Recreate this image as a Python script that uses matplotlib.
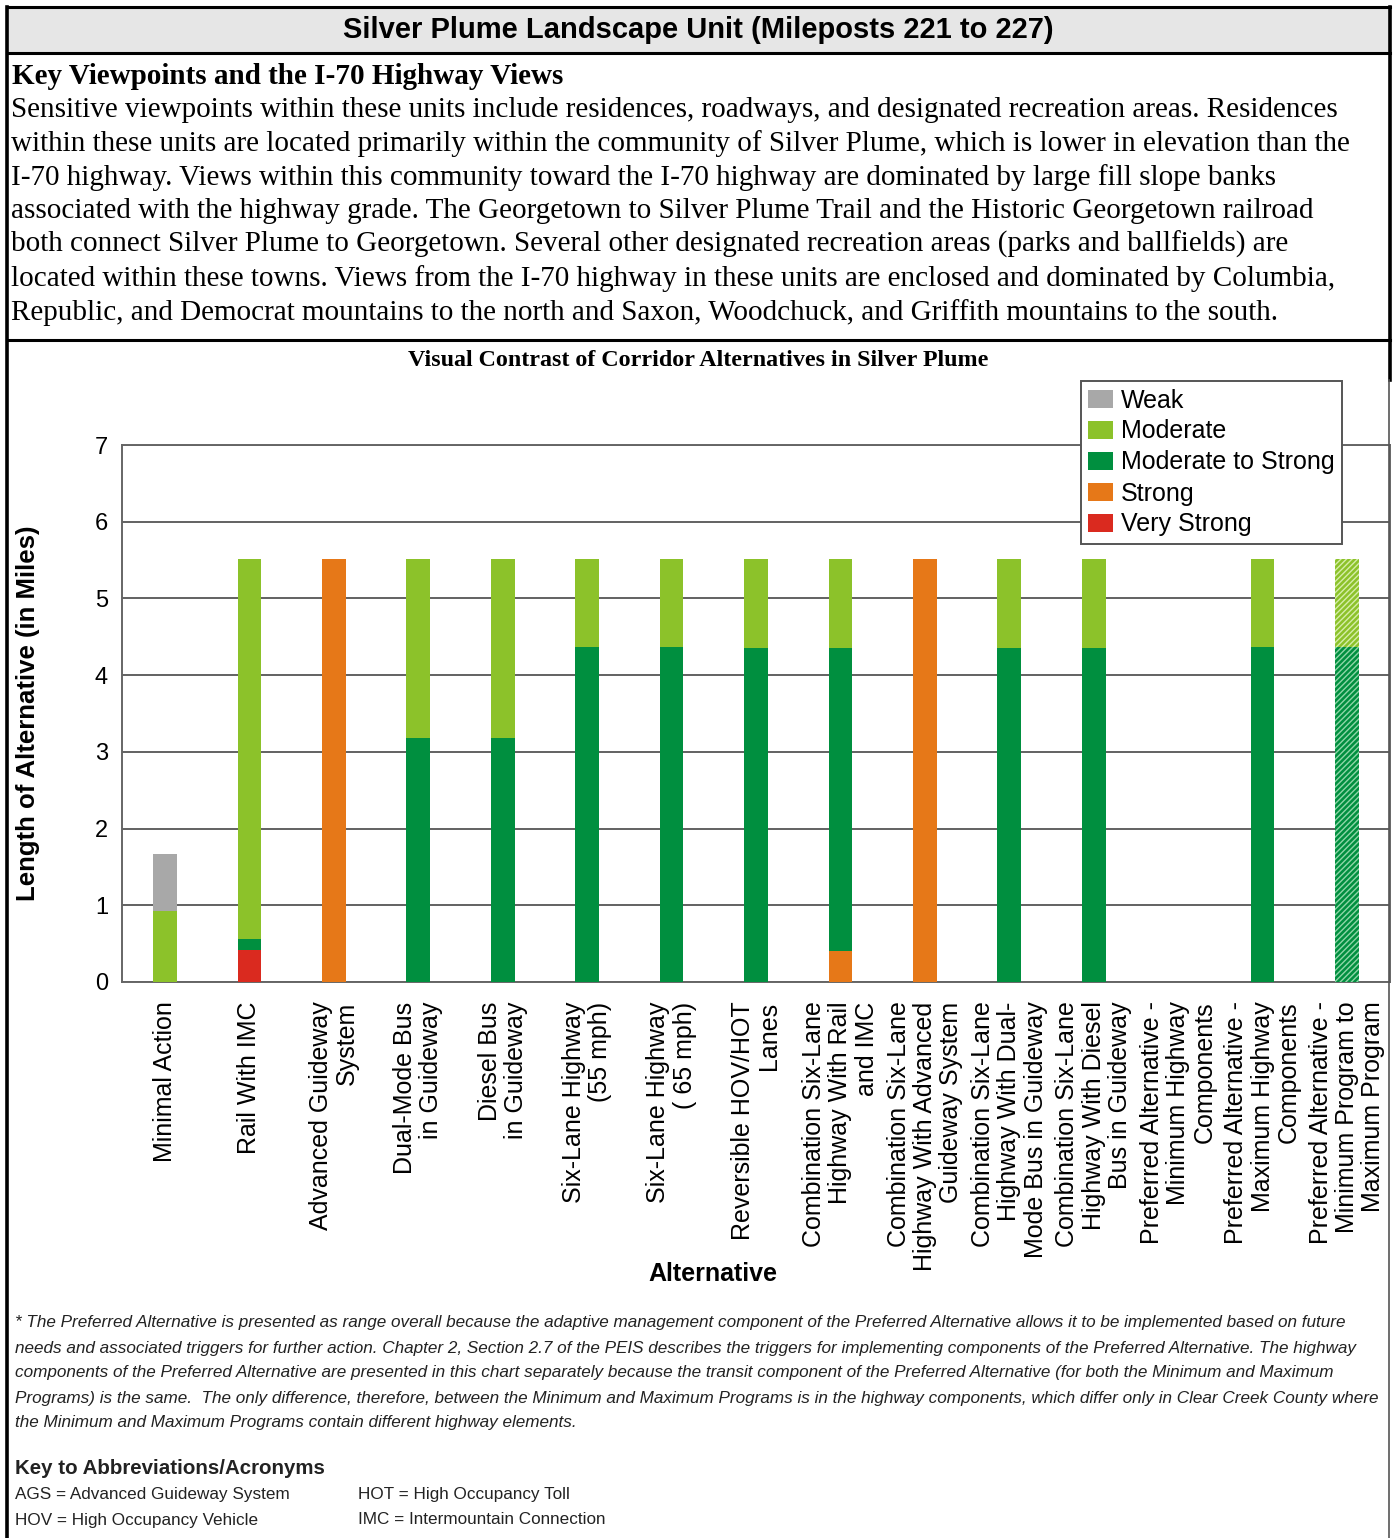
import matplotlib
matplotlib.use("Agg")
import matplotlib.pyplot as plt
from matplotlib.patches import Patch, Rectangle
from matplotlib.lines import Line2D

W, H = 1394, 1538

categories = [
    "Minimal Action",
    "Rail With IMC",
    "Advanced Guideway\nSystem",
    "Dual-Mode Bus\nin Guideway",
    "Diesel Bus\nin Guideway",
    "Six-Lane Highway\n(55 mph)",
    "Six-Lane Highway\n( 65 mph)",
    "Reversible HOV/HOT\nLanes",
    "Combination Six-Lane\nHighway With Rail\nand IMC",
    "Combination Six-Lane\nHighway With Advanced\nGuideway System",
    "Combination Six-Lane\nHighway With Dual-\nMode Bus in Guideway",
    "Combination Six-Lane\nHighway With Diesel\nBus in Guideway",
    "Preferred Alternative -\nMinimum Highway\nComponents",
    "Preferred Alternative -\nMaximum Highway\nComponents",
    "Preferred Alternative -\nMinimum Program to\nMaximum Program",
]

# miles of each contrast level, stacked bottom to top in this order
very_strong = [0, 0.42, 0, 0, 0, 0, 0, 0, 0, 0, 0, 0, 0, 0, 0]
strong      = [0, 0, 5.52, 0, 0, 0, 0, 0, 0.40, 5.52, 0, 0, 0, 0, 0]
mod_strong  = [0, 0.14, 0, 3.18, 3.18, 4.37, 4.37, 4.35, 3.95, 0, 4.35, 4.35, 0, 4.37, 4.37]
moderate    = [0.92, 4.96, 0, 2.34, 2.34, 1.15, 1.15, 1.17, 1.17, 0, 1.17, 1.17, 0, 1.15, 1.15]
weak        = [0.75, 0, 0, 0, 0, 0, 0, 0, 0, 0, 0, 0, 0, 0, 0]
is_range    = [False] * 14 + [True]

levels = ["Very Strong", "Strong", "Moderate to Strong", "Moderate", "Weak"]
series = [very_strong, strong, mod_strong, moderate, weak]
colors = {"Weak": "#a8a8a8", "Moderate": "#8cc22a", "Moderate to Strong": "#008f3f",
          "Strong": "#e67818", "Very Strong": "#da2a1f"}
hatch_cols = {"Moderate": "#d6eeaa", "Moderate to Strong": "#8fd6a8"}

sans = "Liberation Sans"
serif = "Liberation Serif"


def fx(px):
    return px / W


def fy(py):
    return 1 - py / H


fig = plt.figure(figsize=(W / 100, H / 100), dpi=100)

# page frame and header band
fig.add_artist(Rectangle((fx(8), fy(53)), fx(1382), 45 / H, transform=fig.transFigure,
                         facecolor="#e6e6e6", edgecolor="none"))
for xs, ys, lw, c in [((7, 1390), (7, 7), 2.2, "black"),
                      ((7, 1390), (53, 53), 2.2, "black"),
                      ((7, 1390), (340, 340), 2.2, "black"),
                      ((7, 7), (7, 1538), 2.6, "black"),
                      ((1390, 1390), (7, 380), 2.6, "black"),
                      ((1389, 1389), (380, 1538), 1.2, "#555555")]:
    fig.add_artist(Line2D([fx(xs[0]), fx(xs[1])], [fy(ys[0]), fy(ys[1])],
                          transform=fig.transFigure, lw=lw, color=c))

fig.text(fx(698), fy(30), "Silver Plume Landscape Unit (Mileposts 221 to 227)",
         ha="center", va="center", fontsize=21, fontweight="bold", family=sans)
fig.text(fx(12), fy(76), "Key Viewpoints and the I-70 Highway Views",
         ha="left", va="center", fontsize=21, fontweight="bold", family=serif)

body = [
    "Sensitive viewpoints within these units include residences, roadways, and designated recreation areas. Residences",
    "within these units are located primarily within the community of Silver Plume, which is lower in elevation than the",
    "I-70 highway. Views within this community toward the I-70 highway are dominated by large fill slope banks",
    "associated with the highway grade. The Georgetown to Silver Plume Trail and the Historic Georgetown railroad",
    "both connect Silver Plume to Georgetown. Several other designated recreation areas (parks and ballfields) are",
    "located within these towns. Views from the I-70 highway in these units are enclosed and dominated by Columbia,",
    "Republic, and Democrat mountains to the north and Saxon, Woodchuck, and Griffith mountains to the south.",
]
for i, line in enumerate(body):
    fig.text(fx(11), fy(110 + i * 33.7), line, ha="left", va="center",
             fontsize=21, family=serif)

fig.text(fx(698), fy(360), "Visual Contrast of Corridor Alternatives in Silver Plume",
         ha="center", va="center", fontsize=17.3, fontweight="bold", family=serif)

# chart
ax = fig.add_axes([fx(122), fy(982), fx(1390) - fx(122), (982 - 445) / H])
x = list(range(len(categories)))
bottom = [0.0] * len(categories)
for lev, vals in zip(levels, series):
    for i in x:
        if vals[i] <= 0:
            continue
        if is_range[i]:
            ax.bar(i, vals[i], bottom=bottom[i], width=0.28, color=colors[lev],
                   edgecolor=hatch_cols.get(lev, "white"), linewidth=0, hatch="//////",
                   zorder=3)
        else:
            ax.bar(i, vals[i], bottom=bottom[i], width=0.28, color=colors[lev],
                   linewidth=0, zorder=3)
        bottom[i] += vals[i]

ax.set_xlim(-0.51, 14.51)
ax.set_ylim(0, 7)
ax.set_yticks(range(8))
ax.yaxis.grid(True, color="#555555", lw=1.3, zorder=0)
ax.set_axisbelow(True)
for s in ax.spines.values():
    s.set_color("#666666")
    s.set_linewidth(1.4)
ax.tick_params(length=0)
ax.tick_params(axis="y", pad=10, labelsize=17)
ax.set_xticks(x)
ax.set_xticklabels(categories, rotation=90, fontsize=18, family=sans,
                   ha="center", va="top", multialignment="right", linespacing=1.12)
ax.tick_params(axis="x", pad=14)
for lab in ax.get_yticklabels():
    lab.set_family(sans)
ax.set_ylabel("Length of Alternative (in Miles)", fontsize=18.5, fontweight="bold",
              family=sans)
ax.yaxis.set_label_coords((40 - 122) / (1390 - 122), 0.5)
ax.set_xlabel("Alternative", fontsize=18, fontweight="bold", family=sans)
ax.xaxis.set_label_coords((713 - 122) / (1390 - 122), -(1262 - 982) / (982 - 445))

handles = [Patch(facecolor=colors[n], edgecolor="none") for n in
           ["Weak", "Moderate", "Moderate to Strong", "Strong", "Very Strong"]]
leg = fig.legend(handles, ["Weak", "Moderate", "Moderate to Strong", "Strong", "Very Strong"],
                 loc="upper right", bbox_to_anchor=(fx(1342), fy(381)),
                 prop={"family": sans, "size": 18}, fancybox=False, framealpha=1,
                 edgecolor="#555555", handlelength=1.0, handleheight=0.7,
                 handletextpad=0.3, labelspacing=0.28, borderpad=0.3, borderaxespad=0)
leg.get_frame().set_linewidth(1.4)

foot = [
    "* The Preferred Alternative is presented as range overall because the adaptive management component of the Preferred Alternative allows it to be implemented based on future",
    "needs and associated triggers for further action. Chapter 2, Section 2.7 of the PEIS describes the triggers for implementing components of the Preferred Alternative. The highway",
    "components of the Preferred Alternative are presented in this chart separately because the transit component of the Preferred Alternative (for both the Minimum and Maximum",
    "Programs) is the same.  The only difference, therefore, between the Minimum and Maximum Programs is in the highway components, which differ only in Clear Creek County where",
    "the Minimum and Maximum Programs contain different highway elements.",
]
for i, line in enumerate(foot):
    fig.text(fx(15), fy(1323 + i * 25), line, ha="left", va="center",
             fontsize=12.3, style="italic", family=sans, color="#222222")

fig.text(fx(15), fy(1468), "Key to Abbreviations/Acronyms", ha="left", va="center",
         fontsize=14.8, fontweight="bold", family=sans, color="#222222")
abbr_left = ["AGS = Advanced Guideway System", "HOV = High Occupancy Vehicle"]
abbr_right = ["HOT = High Occupancy Toll", "IMC = Intermountain Connection"]
for i in range(2):
    fig.text(fx(15), fy(1495 + i * 25), abbr_left[i], ha="left", va="center",
             fontsize=12.3, family=sans, color="#222222")
    fig.text(fx(358), fy(1495 + i * 25), abbr_right[i], ha="left", va="center",
             fontsize=12.3, family=sans, color="#222222")

fig.savefig("out.png", dpi=100)
